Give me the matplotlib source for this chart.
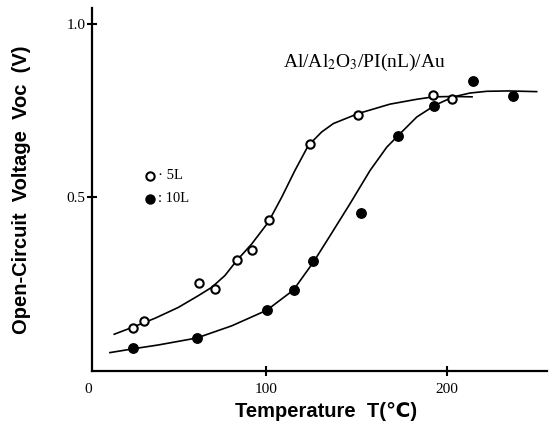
import matplotlib
matplotlib.use("Agg")
import matplotlib.pyplot as plt
import matplotlib.transforms as mtransforms

plt.rcParams["mathtext.fontset"] = "stix"

# ---- data ----
temp_5L = [26.5, 32.6, 63, 72, 83.8, 92.4, 101.8, 124.3, 151, 192, 202.6]
voc_5L = [0.125, 0.145, 0.255, 0.236, 0.320, 0.349, 0.434, 0.653, 0.739, 0.795, 0.785]

temp_10L = [26.3, 62, 100.4, 115.5, 125.8, 152.3, 173.1, 193, 214.2, 236.3]
voc_10L = [0.067, 0.094, 0.175, 0.233, 0.316, 0.455, 0.676, 0.763, 0.835, 0.792]

# fitted curves
fit_5L_t = [16.2, 25.8, 38.7, 51.5, 62.6, 70.0, 77.3, 83.8, 92.1, 101.3, 108.7, 116.0,
            123.4, 130.8, 137.2, 151.0, 168.5, 183.3, 192.4, 203.0, 213.8]
fit_5L_v = [0.106, 0.125, 0.152, 0.183, 0.217, 0.241, 0.275, 0.318, 0.366, 0.429, 0.501,
            0.578, 0.650, 0.689, 0.713, 0.742, 0.769, 0.783, 0.790, 0.791, 0.790]

fit_10L_t = [13.8, 26.7, 40.5, 61.7, 81.0, 100.4, 115.1, 126.1, 135.4, 146.4, 157.5,
             166.7, 173.1, 183.3, 193.4, 203.5, 212.7, 222.0, 234.0, 249.5]
fit_10L_v = [0.053, 0.064, 0.075, 0.095, 0.130, 0.175, 0.233, 0.313, 0.390, 0.482, 0.578,
             0.645, 0.679, 0.732, 0.766, 0.790, 0.801, 0.806, 0.807, 0.805]

y_ticks = [0.5, 1.0]
y_tick_labels = ["0.5", "1.0"]
x_ticks = [100, 200]
x_tick_labels = ["100", "200"]

title_text = "Al/Al$_2$O$_3$/PI(nL)/Au"

# ---- figure ----
fig = plt.figure(figsize=(5.55, 4.32), dpi=100)
ax = fig.add_axes([92 / 555, (432 - 371) / 432, (547 - 92) / 555, (371 - 8) / 432])

serif = ["Liberation Serif", "DejaVu Serif"]
sans_bold = ["Liberation Sans", "DejaVu Sans"]

ax.plot(fit_5L_t, fit_5L_v, color="black", lw=1.2)
ax.plot(fit_10L_t, fit_10L_v, color="black", lw=1.2)
ax.plot(temp_5L, voc_5L, "o", mfc="white", mec="black", mew=1.5, ms=6, ls="none")
ax.plot(temp_10L, voc_10L, "o", mfc="black", mec="black", ms=6.8, ls="none")

ax.set_xlim(3.9, 255.2)
ax.set_ylim(0, 1.046)

for s in ["top", "right"]:
    ax.spines[s].set_visible(False)
for s in ["left", "bottom"]:
    ax.spines[s].set_linewidth(1.6)

ax.set_xticks(x_ticks)
ax.set_xticklabels(x_tick_labels, fontfamily=serif, fontsize=11)
ax.set_yticks(y_ticks)
ax.set_yticklabels(y_tick_labels, fontfamily=serif, fontsize=11)
ax.tick_params(axis="both", direction="inout", length=7, width=1.5)
ax.tick_params(axis="y", pad=1)
ax.tick_params(axis="x", pad=5)

# "0" at the origin
trans = mtransforms.blended_transform_factory(ax.transData, ax.transAxes)
ax.text(1.7, -0.05, "0", transform=trans, ha="center", va="center",
        fontfamily=serif, fontsize=11, clip_on=False)

# annotation
ax.text(154.5, 0.89, title_text, ha="center", va="center", fontfamily=serif, fontsize=14)

# legend (manual)
ax.plot([35.9], [0.563], "o", mfc="white", mec="black", mew=1.5, ms=6)
ax.plot([35.9], [0.497], "o", mfc="black", mec="black", ms=6.5)
ax.text(40.5, 0.563, "· 5L", ha="left", va="center", fontfamily=serif, fontsize=10.5)
ax.text(40.5, 0.497, ": 10L", ha="left", va="center", fontfamily=serif, fontsize=10.5)

ax.set_xlabel("Temperature  T(℃)", fontfamily=sans_bold, fontweight="bold", fontsize=14.5,
              labelpad=5)
ax.xaxis.set_label_coords((326 - 92) / 455, -0.085)
ax.set_ylabel("Open-Circuit  Voltage  Voc  (V)", fontfamily=sans_bold, fontweight="bold",
              fontsize=14.5)
ax.yaxis.set_label_coords(-(92 - 31) / 455, 0.5)

fig.savefig("out.png", dpi=100)
